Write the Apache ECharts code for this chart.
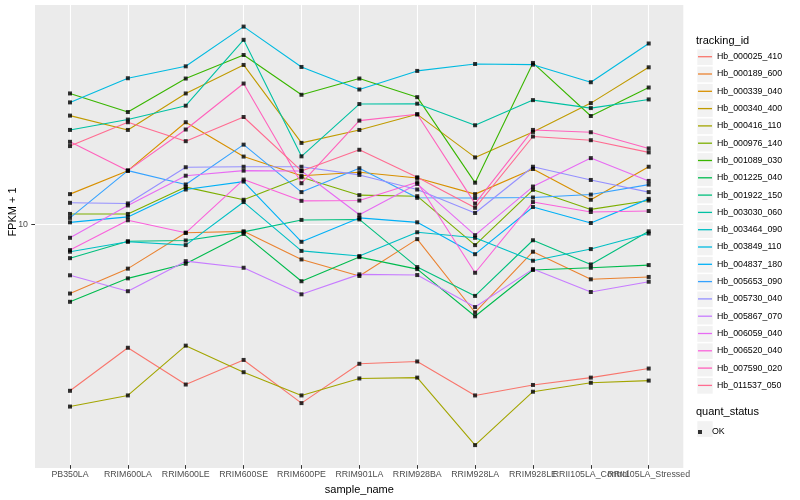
<!DOCTYPE html>
<html><head><meta charset="utf-8">
<script src="https://cdn.jsdelivr.net/npm/echarts@6/dist/echarts.min.js"></script>
<style>html,body{margin:0;padding:0;background:#fff}#c{width:800px;height:500px}</style>
</head><body><div id="c"></div>
<script>
const categories = ['PB350LA','RRIM600LA','RRIM600LE','RRIM600SE','RRIM600PE','RRIM901LA','RRIM928BA','RRIM928LA','RRIM928LE','RRII105LA_Control','RRII105LA_Stressed'];
const trackingIds = ['Hb_000025_410','Hb_000189_600','Hb_000339_040','Hb_000340_400','Hb_000416_110','Hb_000976_140','Hb_001089_030','Hb_001225_040','Hb_001922_150','Hb_003030_060','Hb_003464_090','Hb_003849_110','Hb_004837_180','Hb_005653_090','Hb_005730_040','Hb_005867_070','Hb_006059_040','Hb_006520_040','Hb_007590_020','Hb_011537_050'];
const colors = ['#F8766D','#EA8331','#D89000','#C09B00','#A3A500','#7CAE00','#39B600','#00BB4E','#00BF7D','#00C1A3','#00BFC4','#00BAE0','#00B0F6','#35A2FF','#9590FF','#C77CFF','#E76BF3','#FA62DB','#FF62BC','#FF6C91'];

const Hb_000025_410 = [3.78, 4.85, 3.92, 4.52, 3.52, 4.42, 4.48, 3.68, 3.91, 4.08, 4.30];
const Hb_000189_600 = [6.64, 7.67, 9.44, 9.52, 8.09, 7.35, 9.10, 5.95, 8.46, 7.21, 7.31];
const Hb_000339_040 = [11.81, 13.53, 17.91, 14.68, 13.14, 13.40, 12.97, 11.81, 13.66, 11.43, 13.84];
const Hb_000340_400 = [18.61, 17.13, 21.16, 24.96, 15.89, 17.13, 18.75, 14.61, 16.93, 20.01, 24.62];
const Hb_000416_110 = [3.45, 3.68, 4.91, 4.21, 3.68, 4.06, 4.08, 2.76, 3.76, 3.96, 4.01];
const Hb_000976_140 = [10.53, 10.53, 12.30, 11.43, 13.02, 11.74, 11.67, 8.79, 12.11, 10.81, 11.38];
const Hb_001089_030 = [21.16, 19.00, 23.07, 26.44, 21.00, 23.07, 20.71, 12.62, 25.25, 18.57, 21.90];
const Hb_001225_040 = [6.33, 7.25, 7.89, 9.38, 7.13, 8.20, 7.65, 5.82, 7.61, 7.71, 7.83];
const Hb_001922_150 = [8.15, 8.99, 9.03, 9.49, 10.17, 10.20, 7.74, 6.55, 9.04, 7.86, 9.52];
const Hb_003030_060 = [17.13, 18.19, 19.71, 28.87, 14.70, 19.90, 19.94, 17.60, 20.36, 19.44, 20.44];
const Hb_003464_090 = [8.46, 8.96, 8.79, 11.28, 8.50, 8.25, 9.47, 9.17, 8.03, 8.59, 9.40];
const Hb_003849_110 = [20.09, 23.11, 24.76, 31.17, 24.67, 21.65, 24.11, 25.10, 25.00, 22.58, 28.26];
const Hb_004837_180 = [10.03, 10.35, 12.13, 12.70, 8.96, 10.29, 10.03, 8.34, 10.96, 9.99, 11.49];
const Hb_005653_090 = [10.29, 13.53, 12.49, 15.73, 11.95, 13.72, 11.56, 11.55, 11.58, 11.78, 12.48];
const Hb_005730_040 = [11.23, 11.19, 13.80, 13.84, 13.84, 13.20, 12.13, 10.59, 13.84, 12.82, 11.95];
const Hb_005867_070 = [7.38, 6.73, 8.01, 7.71, 6.61, 7.42, 7.39, 6.14, 7.65, 6.70, 7.11];
const Hb_006059_040 = [9.17, 11.06, 13.14, 13.53, 13.50, 10.48, 12.53, 9.31, 12.34, 14.55, 12.75];
const Hb_006520_040 = [8.54, 10.15, 9.44, 12.85, 11.36, 11.38, 12.65, 7.49, 11.28, 10.65, 10.71];
const Hb_007590_020 = [15.99, 13.53, 17.17, 22.41, 12.58, 18.08, 18.75, 11.18, 17.13, 16.90, 15.39];
const Hb_011537_050 = [15.60, 17.91, 16.05, 18.46, 13.51, 15.27, 13.02, 10.91, 16.49, 16.14, 15.04];

const seriesValues = [Hb_000025_410, Hb_000189_600, Hb_000339_040, Hb_000340_400, Hb_000416_110, Hb_000976_140, Hb_001089_030, Hb_001225_040, Hb_001922_150, Hb_003030_060, Hb_003464_090, Hb_003849_110, Hb_004837_180, Hb_005653_090, Hb_005730_040, Hb_005867_070, Hb_006059_040, Hb_006520_040, Hb_007590_020, Hb_011537_050];
const quantStatus = ['OK'];
const yTickLabels = [10];
const Y_MIN = 2.458, Y_MAX = 35.32;

const FONT = '"Liberation Sans", Arial, Helvetica, sans-serif';
const chart = echarts.init(document.getElementById('c'), null, {renderer: 'canvas'});

const lineSeries = trackingIds.map((name, i) => ({
  name: name, type: 'line', xAxisIndex: 1, yAxisIndex: 1,
  data: seriesValues[i], symbol: 'none', silent: true,
  lineStyle: {width: 1.1, color: colors[i]}, itemStyle: {color: colors[i]}, z: 2
}));
const pointData = [];
seriesValues.forEach(vals => vals.forEach((v, j) => pointData.push([j, v])));

const decor = trackingIds.map((n, i) => ({
  type: 'rect', shape: {x: 697.3, y: 49.3 + i * 17.3, width: 15.4, height: 15.7},
  style: {fill: '#F2F2F2'}, silent: true
}));
decor.push({type: 'rect', shape: {x: 697.3, y: 421.2, width: 15.4, height: 15.7}, style: {fill: '#F2F2F2'}, silent: true});
decor.push({type: 'text', x: 13, y: 212, rotation: Math.PI / 2, silent: true,
  style: {text: 'FPKM + 1', fontSize: 11, fill: '#000', fontFamily: FONT, align: 'center', verticalAlign: 'middle'}});

chart.setOption({
  animation: false,
  backgroundColor: '#fff',
  textStyle: {fontFamily: FONT},
  title: [
    {text: 'tracking_id', left: 696, top: 35, padding: 0, textStyle: {fontSize: 11, fontWeight: 'normal', color: '#000', fontFamily: FONT}},
    {text: 'quant_status', left: 696, top: 406.5, padding: 0, textStyle: {fontSize: 11, fontWeight: 'normal', color: '#000', fontFamily: FONT}}
  ],
  graphic: decor,
  legend: [
    {data: trackingIds, orient: 'vertical', left: 698, top: 51.7, padding: 0, itemWidth: 14, itemHeight: 10, itemGap: 7.3,
     icon: 'path://M0,0h14v1.3h-14z', symbolKeepAspect: true,
     selectedMode: false, textStyle: {fontSize: 8.8, color: '#000', fontFamily: FONT, lineHeight: 10}},
    {data: quantStatus, orient: 'vertical', left: 698, top: 427, padding: 0, itemWidth: 14, itemHeight: 4,
     icon: 'path://M0,0h4v4h-4z', symbolKeepAspect: true,
     selectedMode: false, textStyle: {fontSize: 8.8, color: '#000', fontFamily: FONT, lineHeight: 10}}
  ],
  grid: [
    {left: 35, right: 116.7, top: 5, bottom: 32, show: true, backgroundColor: '#EBEBEB', borderWidth: 0, containLabel: false},
    {left: 70, right: 151.3, top: 5, bottom: 32, containLabel: false}
  ],
  xAxis: [
    {gridIndex: 0, type: 'value', min: 0, max: 1, show: false},
    {gridIndex: 1, type: 'category', data: categories, boundaryGap: false,
     axisLine: {show: false},
     axisTick: {show: true, length: 3.7, lineStyle: {color: '#333333', width: 1}},
     axisLabel: {interval: 0, fontSize: 8.8, color: '#4D4D4D', margin: 5, fontFamily: FONT},
     splitLine: {show: true, lineStyle: {color: '#FFFFFF', width: 1.1}},
     name: 'sample_name', nameLocation: 'middle', nameGap: 15,
     nameTextStyle: {fontSize: 11, color: '#000', fontFamily: FONT}}
  ],
  yAxis: [
    {gridIndex: 0, type: 'log', logBase: 10, min: Y_MIN, max: Y_MAX,
     axisLine: {show: false},
     axisTick: {show: true, length: 3.7, lineStyle: {color: '#333333', width: 1}, customValues: yTickLabels},
     axisLabel: {fontSize: 8.8, color: '#4D4D4D', margin: 7, fontFamily: FONT, customValues: yTickLabels,
       showMinLabel: false, showMaxLabel: false,
       formatter: v => (yTickLabels.some(t => Math.abs(t - v) < 1e-6) ? String(Math.round(v)) : '')},
     splitLine: {show: true, lineStyle: {color: '#FFFFFF', width: 1.1}}},
    {gridIndex: 1, type: 'log', logBase: 10, min: Y_MIN, max: Y_MAX, show: false, splitLine: {show: false}}
  ],
  series: lineSeries.concat([{
    name: 'OK', type: 'scatter', xAxisIndex: 1, yAxisIndex: 1, data: pointData,
    symbol: 'rect', symbolSize: 4, itemStyle: {color: '#000000'}, z: 5, silent: true
  }])
});
</script></body></html>
